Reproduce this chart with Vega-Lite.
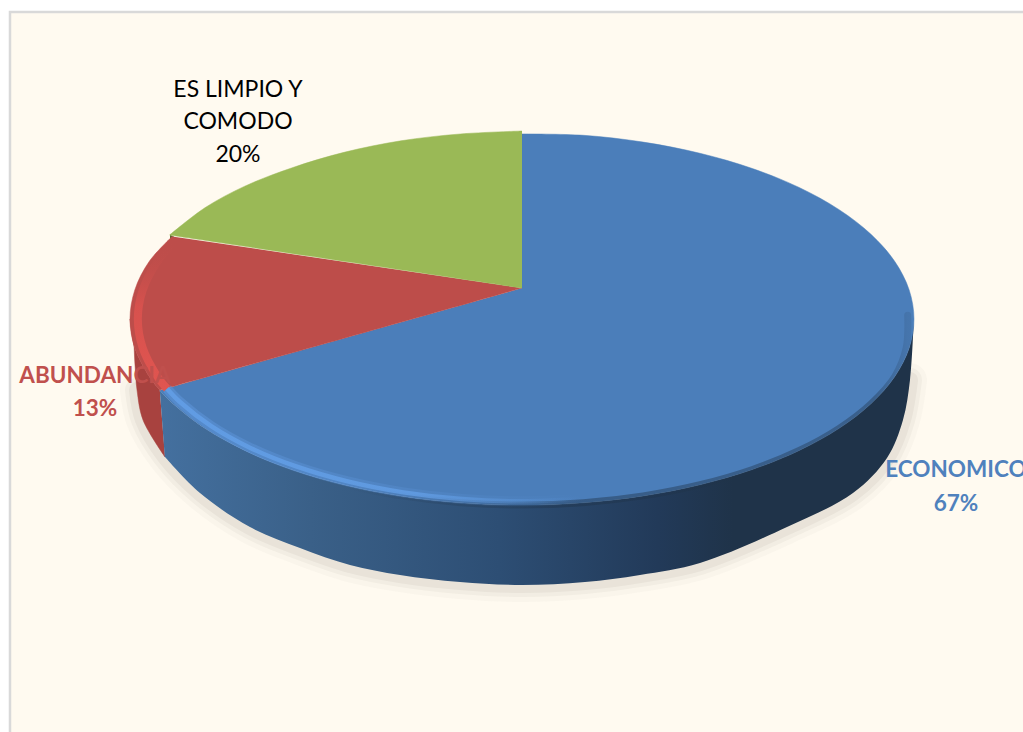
{
  "$schema": "https://vega.github.io/schema/vega-lite/v6.json",
  "width": 1023,
  "height": 732,
  "padding": 0,
  "autosize": {"type": "none"},
  "background": "#ffffff",
  "view": {"stroke": null},
  "datasets": {
    "panel": [{"x": -1.3061, "x2": 1.2900, "y": 1.6505, "y2": -2.2500}],
    "faces": [
      {"slice": "ECONOMICO", "seq": 0, "x": 0, "y": 0.1667},
      {"slice": "ECONOMICO", "seq": 0.5, "x": 0, "y": 0.1667},
      {"slice": "ECONOMICO", "seq": 1, "x": 0, "y": 0.995},
      {"slice": "ECONOMICO", "seq": 1.5, "x": 0, "y": 0.995},
      {"slice": "ECONOMICO", "seq": 2, "x": 0.1564, "y": 0.9877},
      {"slice": "ECONOMICO", "seq": 3, "x": 0.309, "y": 0.9511},
      {"slice": "ECONOMICO", "seq": 4, "x": 0.454, "y": 0.891},
      {"slice": "ECONOMICO", "seq": 5, "x": 0.5878, "y": 0.809},
      {"slice": "ECONOMICO", "seq": 6, "x": 0.7071, "y": 0.7071},
      {"slice": "ECONOMICO", "seq": 7, "x": 0.809, "y": 0.5878},
      {"slice": "ECONOMICO", "seq": 8, "x": 0.891, "y": 0.454},
      {"slice": "ECONOMICO", "seq": 9, "x": 0.9511, "y": 0.309},
      {"slice": "ECONOMICO", "seq": 10, "x": 0.9877, "y": 0.1564},
      {"slice": "ECONOMICO", "seq": 11, "x": 1, "y": 0},
      {"slice": "ECONOMICO", "seq": 12, "x": 0.9877, "y": -0.1564},
      {"slice": "ECONOMICO", "seq": 13, "x": 0.9511, "y": -0.309},
      {"slice": "ECONOMICO", "seq": 14, "x": 0.891, "y": -0.454},
      {"slice": "ECONOMICO", "seq": 15, "x": 0.809, "y": -0.5878},
      {"slice": "ECONOMICO", "seq": 16, "x": 0.7071, "y": -0.7071},
      {"slice": "ECONOMICO", "seq": 17, "x": 0.5878, "y": -0.809},
      {"slice": "ECONOMICO", "seq": 18, "x": 0.454, "y": -0.891},
      {"slice": "ECONOMICO", "seq": 19, "x": 0.309, "y": -0.9511},
      {"slice": "ECONOMICO", "seq": 20, "x": 0.1564, "y": -0.9877},
      {"slice": "ECONOMICO", "seq": 21, "x": 0, "y": -1},
      {"slice": "ECONOMICO", "seq": 22, "x": -0.1564, "y": -0.9877},
      {"slice": "ECONOMICO", "seq": 23, "x": -0.309, "y": -0.9511},
      {"slice": "ECONOMICO", "seq": 24, "x": -0.454, "y": -0.891},
      {"slice": "ECONOMICO", "seq": 25, "x": -0.5878, "y": -0.809},
      {"slice": "ECONOMICO", "seq": 26, "x": -0.7071, "y": -0.7071},
      {"slice": "ECONOMICO", "seq": 27, "x": -0.809, "y": -0.5878},
      {"slice": "ECONOMICO", "seq": 28, "x": -0.891, "y": -0.454},
      {"slice": "ECONOMICO", "seq": 29, "x": -0.9239, "y": -0.3827},
      {"slice": "ECONOMICO", "seq": 29.5, "x": -0.9239, "y": -0.3827},
      {"slice": "ABUNDANCIA", "seq": 0, "x": 0, "y": 0.1667},
      {"slice": "ABUNDANCIA", "seq": 0.5, "x": 0, "y": 0.1667},
      {"slice": "ABUNDANCIA", "seq": 1, "x": -0.9239, "y": -0.3827},
      {"slice": "ABUNDANCIA", "seq": 1.5, "x": -0.9239, "y": -0.3827},
      {"slice": "ABUNDANCIA", "seq": 2, "x": -0.9511, "y": -0.309},
      {"slice": "ABUNDANCIA", "seq": 3, "x": -0.9877, "y": -0.1564},
      {"slice": "ABUNDANCIA", "seq": 4, "x": -1, "y": 0},
      {"slice": "ABUNDANCIA", "seq": 5, "x": -0.9877, "y": 0.1564},
      {"slice": "ABUNDANCIA", "seq": 6, "x": -0.9511, "y": 0.309},
      {"slice": "ABUNDANCIA", "seq": 7, "x": -0.8925, "y": 0.4435},
      {"slice": "ABUNDANCIA", "seq": 7.5, "x": -0.8925, "y": 0.4435},
      {"slice": "ES LIMPIO Y COMODO", "seq": 0, "x": 0, "y": 0.1667},
      {"slice": "ES LIMPIO Y COMODO", "seq": 0.5, "x": 0, "y": 0.1667},
      {"slice": "ES LIMPIO Y COMODO", "seq": 1, "x": -0.8988, "y": 0.4516},
      {"slice": "ES LIMPIO Y COMODO", "seq": 1.5, "x": -0.8988, "y": 0.4516},
      {"slice": "ES LIMPIO Y COMODO", "seq": 2, "x": -0.809, "y": 0.5978},
      {"slice": "ES LIMPIO Y COMODO", "seq": 3, "x": -0.7071, "y": 0.7141},
      {"slice": "ES LIMPIO Y COMODO", "seq": 4, "x": -0.5878, "y": 0.812},
      {"slice": "ES LIMPIO Y COMODO", "seq": 5, "x": -0.454, "y": 0.896},
      {"slice": "ES LIMPIO Y COMODO", "seq": 6, "x": -0.309, "y": 0.958},
      {"slice": "ES LIMPIO Y COMODO", "seq": 7, "x": -0.1564, "y": 0.995},
      {"slice": "ES LIMPIO Y COMODO", "seq": 8, "x": 0, "y": 1.0108},
      {"slice": "ES LIMPIO Y COMODO", "seq": 8.5, "x": 0, "y": 1.0108}
    ],
    "wallEconomico": [
      {"seq": 1, "x": 1, "y": 0},
      {"seq": 2, "x": 0.9877, "y": -0.1564},
      {"seq": 3, "x": 0.9511, "y": -0.309},
      {"seq": 4, "x": 0.891, "y": -0.454},
      {"seq": 5, "x": 0.809, "y": -0.5878},
      {"seq": 6, "x": 0.7071, "y": -0.7071},
      {"seq": 7, "x": 0.5878, "y": -0.809},
      {"seq": 8, "x": 0.454, "y": -0.891},
      {"seq": 9, "x": 0.309, "y": -0.9511},
      {"seq": 10, "x": 0.1564, "y": -0.9877},
      {"seq": 11, "x": 0, "y": -1},
      {"seq": 12, "x": -0.1564, "y": -0.9877},
      {"seq": 13, "x": -0.309, "y": -0.9511},
      {"seq": 14, "x": -0.454, "y": -0.891},
      {"seq": 15, "x": -0.5878, "y": -0.809},
      {"seq": 16, "x": -0.7071, "y": -0.7071},
      {"seq": 17, "x": -0.809, "y": -0.5878},
      {"seq": 18, "x": -0.891, "y": -0.454},
      {"seq": 19, "x": -0.9239, "y": -0.3827},
      {"seq": 19.5, "x": -0.9239, "y": -0.3827},
      {"seq": 20, "x": -0.9107, "y": -0.7419},
      {"seq": 20.5, "x": -0.9107, "y": -0.7419},
      {"seq": 21, "x": -0.8214, "y": -0.9355},
      {"seq": 22, "x": -0.6939, "y": -1.1183},
      {"seq": 23, "x": -0.5663, "y": -1.2312},
      {"seq": 24, "x": -0.4388, "y": -1.3226},
      {"seq": 25, "x": -0.3112, "y": -1.3763},
      {"seq": 26, "x": -0.1582, "y": -1.414},
      {"seq": 27, "x": 0, "y": -1.4301},
      {"seq": 28, "x": 0.1607, "y": -1.414},
      {"seq": 29, "x": 0.301, "y": -1.3763},
      {"seq": 30, "x": 0.4541, "y": -1.3118},
      {"seq": 32, "x": 0.676, "y": -1.1183},
      {"seq": 33, "x": 0.8444, "y": -0.9355},
      {"seq": 34, "x": 0.9311, "y": -0.7473},
      {"seq": 35, "x": 0.9719, "y": -0.543},
      {"seq": 36, "x": 0.9898, "y": -0.328},
      {"seq": 37, "x": 0.9974, "y": -0.0968}
    ],
    "wallAbundancia": [
      {"seq": 1, "x": -0.9239, "y": -0.3827},
      {"seq": 2, "x": -0.9511, "y": -0.309},
      {"seq": 3, "x": -0.9877, "y": -0.1564},
      {"seq": 4, "x": -1, "y": 0},
      {"seq": 4.5, "x": -1, "y": 0},
      {"seq": 5, "x": -0.9923, "y": -0.0753},
      {"seq": 6, "x": -0.9872, "y": -0.2473},
      {"seq": 7, "x": -0.9821, "y": -0.3817},
      {"seq": 8, "x": -0.9668, "y": -0.543},
      {"seq": 9, "x": -0.9107, "y": -0.7419}
    ],
    "wallLimpio": [
      {"seq": 1, "x": -0.8980, "y": 0.4516},
      {"seq": 2, "x": -0.8878, "y": 0.4409},
      {"seq": 3, "x": -0.8980, "y": 0.4247}
    ],
    "groundShadow": [
      {"seq": 1, "x": -0.9821, "y": -0.3817},
      {"seq": 2, "x": -0.9668, "y": -0.543},
      {"seq": 3, "x": -0.9107, "y": -0.7419},
      {"seq": 4, "x": -0.8214, "y": -0.9355},
      {"seq": 5, "x": -0.6939, "y": -1.1183},
      {"seq": 6, "x": -0.5663, "y": -1.2312},
      {"seq": 7, "x": -0.4388, "y": -1.3226},
      {"seq": 8, "x": -0.3112, "y": -1.3763},
      {"seq": 9, "x": -0.1582, "y": -1.414},
      {"seq": 10, "x": 0, "y": -1.4301},
      {"seq": 11, "x": 0.1607, "y": -1.414},
      {"seq": 12, "x": 0.301, "y": -1.3763},
      {"seq": 13, "x": 0.4541, "y": -1.3118},
      {"seq": 15, "x": 0.676, "y": -1.1183},
      {"seq": 16, "x": 0.8444, "y": -0.9355},
      {"seq": 17, "x": 0.9311, "y": -0.7473},
      {"seq": 18, "x": 0.9719, "y": -0.543},
      {"seq": 19, "x": 0.9898, "y": -0.328}
    ],
    "rimShade": [
      {"seq": 1, "x": 0.984, "y": 0.02},
      {"seq": 2, "x": 0.98, "y": -0.1564},
      {"seq": 3, "x": 0.9511, "y": -0.309},
      {"seq": 4, "x": 0.891, "y": -0.454},
      {"seq": 5, "x": 0.809, "y": -0.5878},
      {"seq": 6, "x": 0.7071, "y": -0.7071},
      {"seq": 7, "x": 0.5878, "y": -0.809},
      {"seq": 8, "x": 0.454, "y": -0.891},
      {"seq": 9, "x": 0.309, "y": -0.9511},
      {"seq": 10, "x": 0.1564, "y": -0.9877},
      {"seq": 11, "x": 0, "y": -1},
      {"seq": 12, "x": -0.1564, "y": -0.9877},
      {"seq": 13, "x": -0.309, "y": -0.9511},
      {"seq": 14, "x": -0.454, "y": -0.891}
    ],
    "bevelEconomico": [
      {"seq": 1, "x": 0.1533, "y": -0.9679},
      {"seq": 2, "x": 0, "y": -0.98},
      {"seq": 3, "x": -0.1533, "y": -0.9679},
      {"seq": 4, "x": -0.3028, "y": -0.9321},
      {"seq": 5, "x": -0.4449, "y": -0.8732},
      {"seq": 6, "x": -0.576, "y": -0.7928},
      {"seq": 7, "x": -0.693, "y": -0.693},
      {"seq": 8, "x": -0.7928, "y": -0.576},
      {"seq": 9, "x": -0.8732, "y": -0.4449},
      {"seq": 10, "x": -0.9054, "y": -0.375}
    ],
    "bevelAbundancia": [
      {"seq": 1, "x": -0.9054, "y": -0.375},
      {"seq": 2, "x": -0.9321, "y": -0.3028},
      {"seq": 3, "x": -0.9679, "y": -0.1533},
      {"seq": 4, "x": -0.98, "y": 0},
      {"seq": 5, "x": -0.9679, "y": 0.1533},
      {"seq": 6, "x": -0.9321, "y": 0.3028},
      {"seq": 7, "x": -0.8808, "y": 0.4296}
    ],
    "labelsPlain": [
      {"slice": "ES LIMPIO Y COMODO", "text": "ES LIMPIO Y", "x": -0.7245, "y": 1.1935},
      {"slice": "ES LIMPIO Y COMODO", "text": "COMODO", "x": -0.7245, "y": 1.0215},
      {"slice": "ES LIMPIO Y COMODO", "text": "20%", "x": -0.7245, "y": 0.8441}
    ],
    "labelsBold": [
      {"slice": "ABUNDANCIA", "text": "ABUNDANCIA", "x": -1.0893, "y": -0.3441},
      {"slice": "ABUNDANCIA", "text": "13%", "x": -1.0893, "y": -0.5215},
      {"slice": "ECONOMICO", "text": "ECONOMICO", "x": 1.1071, "y": -0.8495},
      {"slice": "ECONOMICO", "text": "67%", "x": 1.1071, "y": -1.0323}
    ]
  },
  "encoding": {
    "x": {"field": "x", "type": "quantitative", "axis": null, "scale": {"domain": [-1.3316, 1.2781], "nice": false, "zero": false}},
    "y": {"field": "y", "type": "quantitative", "axis": null, "scale": {"domain": [-2.2204, 1.7151], "nice": false, "zero": false}}
  },
  "layer": [
    {
      "data": {"name": "panel"},
      "mark": {"type": "rect", "fill": "#fffaf0", "stroke": "#d9d9d9", "strokeWidth": 2.5},
      "encoding": {"x2": {"field": "x2"}, "y2": {"field": "y2"}}
    },
    {
      "data": {"name": "groundShadow"},
      "mark": {"type": "line", "interpolate": "catmull-rom", "stroke": "#7d786a", "strokeWidth": 34, "opacity": 0.035, "strokeCap": "round"},
      "encoding": {"order": {"field": "seq"}}
    },
    {
      "data": {"name": "groundShadow"},
      "mark": {"type": "line", "interpolate": "catmull-rom", "stroke": "#7d786a", "strokeWidth": 24, "opacity": 0.06, "strokeCap": "round"},
      "encoding": {"order": {"field": "seq"}}
    },
    {
      "data": {"name": "groundShadow"},
      "mark": {"type": "line", "interpolate": "catmull-rom", "stroke": "#7d786a", "strokeWidth": 16, "opacity": 0.08, "strokeCap": "round"},
      "encoding": {"order": {"field": "seq"}}
    },
    {
      "data": {"name": "wallLimpio"},
      "mark": {"type": "line", "fill": "#56682c", "stroke": "#56682c", "strokeWidth": 0.5},
      "encoding": {"order": {"field": "seq"}}
    },
    {
      "data": {"name": "wallAbundancia"},
      "mark": {"type": "line", "interpolate": "catmull-rom", "fill": "#a8423f", "stroke": "#a8423f", "strokeWidth": 0.5},
      "encoding": {"order": {"field": "seq"}}
    },
    {
      "data": {"name": "wallEconomico"},
      "mark": {
        "type": "line",
        "interpolate": "catmull-rom",
        "fill": {
          "gradient": "linear", "x1": 0, "y1": 0, "x2": 1, "y2": 0,
          "stops": [
            {"offset": 0, "color": "#44709f"},
            {"offset": 0.2, "color": "#3a6088"},
            {"offset": 0.45, "color": "#2d4e74"},
            {"offset": 0.66, "color": "#223a59"},
            {"offset": 0.76, "color": "#1f3349"},
            {"offset": 1, "color": "#1f3349"}
          ]
        },
        "stroke": null
      },
      "encoding": {"order": {"field": "seq"}}
    },
    {
      "data": {"name": "faces"},
      "mark": {"type": "line", "interpolate": "catmull-rom", "strokeWidth": 0.5},
      "encoding": {
        "order": {"field": "seq"},
        "fill": {"field": "slice", "type": "nominal", "legend": null, "scale": {"domain": ["ECONOMICO", "ABUNDANCIA", "ES LIMPIO Y COMODO"], "range": ["#4b7eba", "#bd4d4a", "#9ab956"]}},
        "stroke": {"field": "slice", "type": "nominal", "legend": null, "scale": {"domain": ["ECONOMICO", "ABUNDANCIA", "ES LIMPIO Y COMODO"], "range": ["#4b7eba", "#bd4d4a", "#9ab956"]}}
      }
    },
    {
      "data": {"name": "bevelAbundancia"},
      "mark": {
        "type": "line",
        "interpolate": "catmull-rom",
        "strokeWidth": 8,
        "stroke": {
          "gradient": "linear", "x1": 0, "y1": 1, "x2": 0, "y2": 0,
          "stops": [
            {"offset": 0, "color": "rgba(224,85,80,1)"},
            {"offset": 0.55, "color": "rgba(218,82,78,0.9)"},
            {"offset": 1, "color": "rgba(189,77,74,0)"}
          ]
        }
      },
      "encoding": {"order": {"field": "seq"}}
    },
    {
      "data": {"name": "rimShade"},
      "mark": {
        "type": "line",
        "interpolate": "catmull-rom",
        "strokeWidth": 7,
        "strokeCap": "round",
        "stroke": {
          "gradient": "linear", "x1": 1, "y1": 0, "x2": 0, "y2": 0,
          "stops": [
            {"offset": 0, "color": "rgba(31,51,73,0.12)"},
            {"offset": 0.06, "color": "rgba(31,51,73,0.4)"},
            {"offset": 0.6, "color": "rgba(31,51,73,0.45)"},
            {"offset": 1, "color": "rgba(31,51,73,0)"}
          ]
        }
      },
      "encoding": {"order": {"field": "seq"}}
    },
    {
      "data": {"name": "bevelEconomico"},
      "mark": {
        "type": "line",
        "interpolate": "catmull-rom",
        "strokeWidth": 10,
        "stroke": {
          "gradient": "linear", "x1": 0, "y1": 0, "x2": 1, "y2": 0,
          "stops": [
            {"offset": 0, "color": "rgba(94,150,220,0.55)"},
            {"offset": 0.6, "color": "rgba(94,150,220,0.25)"},
            {"offset": 1, "color": "rgba(94,150,220,0)"}
          ]
        }
      },
      "encoding": {"order": {"field": "seq"}}
    },
    {
      "data": {"name": "bevelEconomico"},
      "mark": {
        "type": "line",
        "interpolate": "catmull-rom",
        "strokeWidth": 4.5,
        "stroke": {
          "gradient": "linear", "x1": 0, "y1": 0, "x2": 1, "y2": 0,
          "stops": [
            {"offset": 0, "color": "rgba(98,158,230,0.9)"},
            {"offset": 0.6, "color": "rgba(100,160,232,0.75)"},
            {"offset": 1, "color": "rgba(100,160,232,0)"}
          ]
        }
      },
      "encoding": {"order": {"field": "seq"}}
    },
    {
      "data": {"name": "labelsPlain"},
      "mark": {"type": "text", "font": "Lato", "fontSize": 23, "align": "center", "baseline": "alphabetic", "color": "#000000"},
      "encoding": {"text": {"field": "text"}}
    },
    {
      "data": {"name": "labelsBold"},
      "mark": {"type": "text", "font": "Lato", "fontSize": 22.5, "fontWeight": "bold", "align": "center", "baseline": "alphabetic"},
      "encoding": {
        "text": {"field": "text"},
        "color": {"field": "slice", "type": "nominal", "legend": null, "scale": {"domain": ["ECONOMICO", "ABUNDANCIA"], "range": ["#4f81bd", "#c0504d"]}}
      }
    }
  ]
}
